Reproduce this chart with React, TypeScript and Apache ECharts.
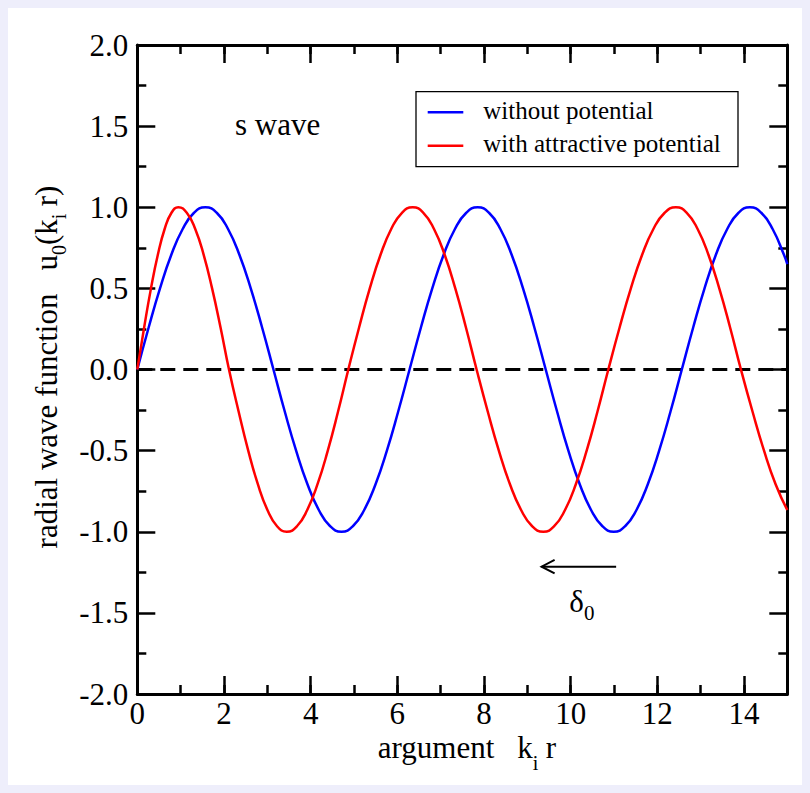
import React, { useEffect, useRef } from "react";
import * as echarts from "echarts";

// Free s-wave u0 = sin(k r), sampled along the argument k r
const freeArg = [
  0, 0.262, 0.524, 0.785, 1.047, 1.309, 1.571,
  1.833, 2.094, 2.356, 2.618, 2.88, 3.142,
  3.403, 3.665, 3.927, 4.189, 4.451, 4.712,
  4.974, 5.236, 5.498, 5.76, 6.021, 6.283,
  6.545, 6.807, 7.069, 7.33, 7.592, 7.854,
  8.116, 8.378, 8.639, 8.901, 9.163, 9.425,
  9.687, 9.948, 10.21, 10.472, 10.734, 10.996,
  11.257, 11.519, 11.781, 12.043, 12.305, 12.566,
  12.828, 13.09, 13.352, 13.614, 13.875, 14.137,
  14.399, 14.661, 14.923, 15,
];
const freeWave = [
  0, 0.259, 0.5, 0.707, 0.866, 0.966, 1,
  0.966, 0.866, 0.707, 0.5, 0.259, 0,
  -0.259, -0.5, -0.707, -0.866, -0.966, -1,
  -0.966, -0.866, -0.707, -0.5, -0.259, 0,
  0.259, 0.5, 0.707, 0.866, 0.966, 1,
  0.966, 0.866, 0.707, 0.5, 0.259, 0,
  -0.259, -0.5, -0.707, -0.866, -0.966, -1,
  -0.966, -0.866, -0.707, -0.5, -0.259, 0,
  0.259, 0.5, 0.707, 0.866, 0.966, 1,
  0.966, 0.866, 0.707, 0.65,
];

// Wave in the attractive potential: shorter wavelength near the origin
const boundArg = [
  0, 0.158, 0.316, 0.474, 0.631, 0.789, 0.947,
  1.142, 1.337, 1.532, 1.726, 1.921, 2.116,
  2.338, 2.56, 2.782, 3.003, 3.225, 3.447,
  3.684, 3.921, 4.159, 4.396, 4.633, 4.87,
  5.118, 5.365, 5.613, 5.86, 6.108, 6.355,
  6.601, 6.847, 7.093, 7.338, 7.584, 7.83,
  8.087, 8.343, 8.6, 8.857, 9.113, 9.37,
  9.62, 9.87, 10.12, 10.37, 10.62, 10.87,
  11.13, 11.39, 11.65, 11.91, 12.17, 12.43,
  12.68, 12.93, 13.18, 13.43, 13.68, 13.93,
  14.197, 14.463, 14.73, 15,
];
const boundWave = [
  0, 0.259, 0.5, 0.707, 0.866, 0.966, 1,
  0.966, 0.866, 0.707, 0.5, 0.259, 0,
  -0.259, -0.5, -0.707, -0.866, -0.966, -1,
  -0.966, -0.866, -0.707, -0.5, -0.259, 0,
  0.259, 0.5, 0.707, 0.866, 0.966, 1,
  0.966, 0.866, 0.707, 0.5, 0.259, 0,
  -0.259, -0.5, -0.707, -0.866, -0.966, -1,
  -0.966, -0.866, -0.707, -0.5, -0.259, 0,
  0.259, 0.5, 0.707, 0.866, 0.966, 1,
  0.966, 0.866, 0.707, 0.5, 0.259, 0,
  -0.259, -0.5, -0.707, -0.866,
];

const zeroLine = [
  [0, 0],
  [15, 0],
];
const xRange = [0, 15];
const yRange = [-2, 2];
const seriesNames = ["without potential", "with attractive potential"];
// phase-shift arrow: start x, tip x, level y, label x, label baseline y
const phaseArrow = [11.05, 9.33, -1.215, 9.97, -1.495];

const BLUE = "#0000ff";
const RED = "#ff0000";
const SERIF = '"Liberation Serif", "Times New Roman", serif';
const CENTRAL = 0.3375; // em distance from the alphabetic baseline up to the central baseline

function measure(text: string, size: number): number {
  const ctx = document.createElement("canvas").getContext("2d");
  if (!ctx) return text.length * size * 0.5;
  ctx.font = `${size}px ${SERIF}`;
  return ctx.measureText(text).width;
}

type Piece = { text: string; size: number; drop?: number; gap?: number };

// Lays out a run of text pieces on a common baseline (local y = 0)
function textRun(pieces: Piece[], anchor: "left" | "center", z = 0) {
  const widths = pieces.map((p) => measure(p.text, p.size) + (p.gap || 0));
  const total = widths.reduce((a, b) => a + b, 0);
  let x = anchor === "center" ? -total / 2 : 0;
  return pieces.map((p, i) => {
    const el = {
      type: "text",
      z,
      x: x + (p.gap || 0),
      y: (p.drop || 0) - CENTRAL * p.size,
      silent: true,
      style: {
        text: p.text,
        fontFamily: SERIF,
        fontSize: p.size,
        fill: "#000",
        align: "left",
        verticalAlign: "middle",
      },
    };
    x += widths[i];
    return el;
  });
}

const axisLineStyle = { color: "#000", width: 3 };
const tickLineStyle = { color: "#000", width: 2.5 };
const labelFont = { color: "#000", fontFamily: SERIF, fontSize: 31 };

function xAxisDef(position: "top" | "bottom", interval: number, withLine: boolean, withLabels: boolean) {
  return {
    type: "value",
    gridIndex: 0,
    position,
    min: xRange[0],
    max: xRange[1],
    interval,
    axisLine: { show: withLine, onZero: false, lineStyle: axisLineStyle },
    axisTick: { show: true, inside: true, length: interval === 2 ? 18 : 9, lineStyle: tickLineStyle },
    axisLabel: {
      show: withLabels,
      margin: 6,
      lineHeight: 26,
      ...labelFont,
      formatter: (v: number) => (v === xRange[1] ? "" : String(v)),
    },
    splitLine: { show: false },
  };
}

function yAxisDef(position: "left" | "right", withLabels: boolean) {
  return {
    type: "value",
    gridIndex: 0,
    position,
    min: yRange[0],
    max: yRange[1],
    interval: 0.5,
    axisLine: { show: true, onZero: false, lineStyle: axisLineStyle },
    axisTick: { show: true, inside: true, length: 18, lineStyle: tickLineStyle },
    minorTick: { show: true, splitNumber: 2, length: 9, lineStyle: tickLineStyle },
    axisLabel: {
      show: withLabels,
      margin: 9,
      ...labelFont,
      formatter: (v: number) => v.toFixed(1),
    },
    splitLine: { show: false },
  };
}

export default function App() {
  const ref = useRef<HTMLDivElement>(null);

  useEffect(() => {
    if (!ref.current) return;
    const chart = echarts.init(ref.current, undefined, { renderer: "svg" });

    const legendX = 416;
    const legendY = 91.7;

    chart.setOption({
      animation: false,
      backgroundColor: "#eeeefb",
      grid: { left: 137.3, right: 22.7, top: 45, bottom: 99, containLabel: false },
      xAxis: [
        xAxisDef("bottom", 2, true, true),
        xAxisDef("bottom", 1, false, false),
        xAxisDef("top", 2, true, false),
        xAxisDef("top", 1, false, false),
      ],
      yAxis: [yAxisDef("left", true), yAxisDef("right", false)],
      series: [
        {
          type: "line",
          name: "zero",
          data: zeroLine,
          symbol: "none",
          lineStyle: { color: "#000", width: 3, type: [15, 8] },
          silent: true,
          z: 1,
        },
        {
          type: "line",
          name: seriesNames[0],
          data: freeArg.map((x, i) => [x, freeWave[i]]),
          symbol: "none",
          smooth: true,
          lineStyle: { color: BLUE, width: 2.5 },
          silent: true,
          z: 2,
        },
        {
          type: "line",
          name: seriesNames[1],
          data: boundArg.map((x, i) => [x, boundWave[i]]),
          symbol: "none",
          smooth: true,
          lineStyle: { color: RED, width: 2.5 },
          silent: true,
          z: 3,
        },
        {
          type: "custom",
          name: "phase shift",
          silent: true,
          clip: false,
          data: [phaseArrow],
          z: 4,
          renderItem: (_params: any, api: any) => {
            const a = api.coord([api.value(0), api.value(2)]);
            const b = api.coord([api.value(1), api.value(2)]);
            const lab = api.coord([api.value(3), api.value(4)]);
            return {
              type: "group",
              children: [
                {
                  type: "line",
                  shape: { x1: a[0], y1: a[1], x2: b[0], y2: b[1] },
                  style: { stroke: "#000", lineWidth: 2, fill: "none" },
                },
                {
                  type: "polyline",
                  shape: {
                    points: [
                      [b[0] + 13, b[1] - 6.7],
                      [b[0], b[1]],
                      [b[0] + 13, b[1] + 6.7],
                    ],
                  },
                  style: { stroke: "#000", lineWidth: 2, fill: "none" },
                },
                {
                  type: "group",
                  x: lab[0],
                  y: lab[1],
                  children: textRun(
                    [
                      { text: "δ", size: 31 },
                      { text: "0", size: 21, drop: 8 },
                    ],
                    "left"
                  ),
                },
              ],
            };
          },
        },
      ],
      graphic: [
        {
          type: "rect",
          z: -100,
          silent: true,
          shape: { x: 8, y: 8, width: 794, height: 777 },
          style: { fill: "#ffffff" },
        },
        {
          type: "rect",
          z: 10,
          silent: true,
          shape: { x: legendX, y: legendY, width: 322, height: 75 },
          style: { fill: "#ffffff", stroke: "#000", lineWidth: 1.3 },
        },
        {
          type: "line",
          z: 11,
          silent: true,
          shape: { x1: legendX + 11.7, y1: 112.3, x2: legendX + 47.3, y2: 112.3 },
          style: { stroke: BLUE, lineWidth: 2.5 },
        },
        {
          type: "line",
          z: 11,
          silent: true,
          shape: { x1: legendX + 11.7, y1: 145.7, x2: legendX + 47.3, y2: 145.7 },
          style: { stroke: RED, lineWidth: 2.5 },
        },
        {
          type: "group",
          x: legendX + 67.3,
          y: 119.3,
          children: textRun([{ text: seriesNames[0], size: 25 }], "left", 12),
        },
        {
          type: "group",
          x: legendX + 67.3,
          y: 151.7,
          children: textRun([{ text: seriesNames[1], size: 25 }], "left", 12),
        },
        {
          type: "group",
          x: 235,
          y: 135,
          children: textRun([{ text: "s wave", size: 31 }], "left", 12),
        },
        {
          type: "group",
          x: 467,
          y: 758,
          children: textRun(
            [
              { text: "argument", size: 31 },
              { text: "k", size: 31, gap: 23 },
              { text: "i", size: 20, drop: 12 },
              { text: "r", size: 31, gap: 7.5 },
            ],
            "center",
            12
          ),
        },
        {
          type: "group",
          x: 56.5,
          y: 367,
          rotation: Math.PI / 2,
          children: textRun(
            [
              { text: "radial wave function", size: 31 },
              { text: "u", size: 31, gap: 23 },
              { text: "0", size: 20, drop: 9 },
              { text: "(k", size: 31 },
              { text: "i", size: 20, drop: 9 },
              { text: "r)", size: 31, gap: 7.5 },
            ],
            "center",
            12
          ),
        },
      ],
    });

    return () => chart.dispose();
  }, []);

  return (
    <div
      ref={ref}
      style={{ position: "fixed", left: 0, top: 0, width: 810, height: 793 }}
    />
  );
}
